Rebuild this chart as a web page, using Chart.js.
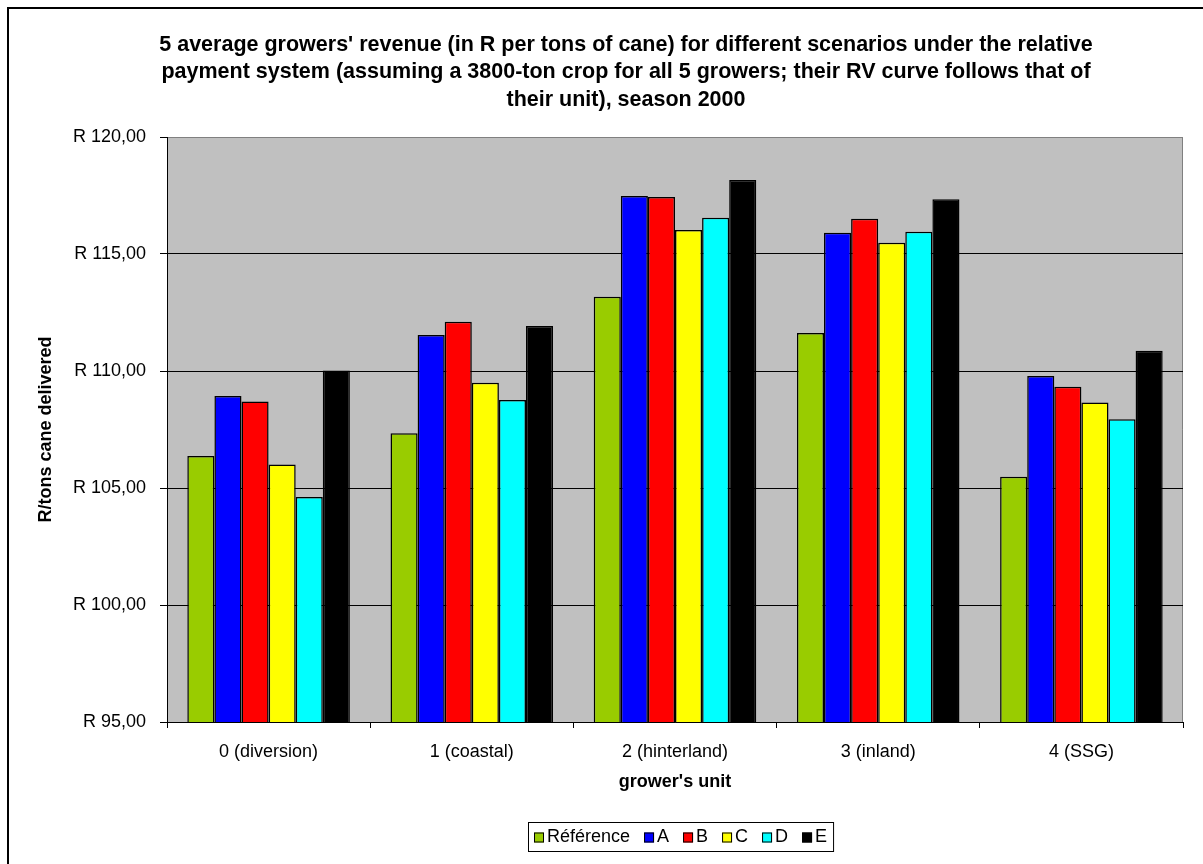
<!DOCTYPE html>
<html>
<head>
<meta charset="utf-8">
<script src="https://cdn.jsdelivr.net/npm/chart.js@4/dist/chart.umd.min.js"></script>
<style>
  html, body { margin: 0; padding: 0; background: #fff; }
  canvas { display: block; }
</style>
</head>
<body>
<canvas id="chart" width="1203" height="864"></canvas>
<script>
// Grower's units (categories)
const units = ['0 (diversion)', '1 (coastal)', '2 (hinterland)', '3 (inland)', '4 (SSG)'];

// Average revenue per ton of cane, per scenario
const reference = [106.37, 107.34, 113.17, 111.62, 105.48];
const scenarioA = [108.93, 111.54, 117.48, 115.91, 109.79];
const scenarioB = [108.70, 112.11, 117.44, 116.51, 109.33];
const scenarioC = [106.00, 109.50, 116.03, 115.48, 108.65];
const scenarioD = [104.62, 108.76, 116.55, 115.95, 107.94];
const scenarioE = [110.02, 111.92, 118.16, 117.34, 110.87];

const seriesNames = ['Référence', 'A', 'B', 'C', 'D', 'E'];
const seriesColors = ['#99CC00', '#0000FF', '#FF0000', '#FFFF00', '#00FFFF', '#000000'];

// Value axis
const yMin = 95, yMax = 120, yStep = 5;

const titleLines = [
  "5 average growers' revenue (in R per tons of cane) for different scenarios under the relative",
  "payment system (assuming a 3800-ton crop for all 5 growers; their RV curve follows that of",
  "their unit), season 2000"
];

const FONT = '"Liberation Sans", Arial, sans-serif';

const seriesValues = [reference, scenarioA, scenarioB, scenarioC, scenarioD, scenarioE];
const datasets = seriesNames.map((name, i) => ({
  label: name,
  data: seriesValues[i],
  backgroundColor: seriesColors[i],
  borderColor: '#000000',
  borderWidth: 1.5,
  borderSkipped: 'start',
  categoryPercentage: 0.8,
  barPercentage: 1.0
}));

// Frame, plot background, title and boxed legend
const decor = {
  id: 'decor',
  beforeDraw(chart) {
    const { ctx, chartArea: a } = chart;
    ctx.save();
    ctx.fillStyle = '#ffffff';
    ctx.fillRect(0, 0, chart.width, chart.height);
    ctx.strokeStyle = '#000000';
    ctx.lineWidth = 2;
    ctx.strokeRect(8, 8, chart.width + 20, chart.height + 20);
    ctx.fillStyle = '#C0C0C0';
    ctx.fillRect(a.left, a.top, a.right - a.left, a.bottom - a.top);
    ctx.strokeStyle = '#808080';
    ctx.lineWidth = 1;
    ctx.beginPath();
    ctx.moveTo(a.left, a.top + 0.5);
    ctx.lineTo(a.right - 0.5, a.top + 0.5);
    ctx.lineTo(a.right - 0.5, a.bottom);
    ctx.stroke();
    ctx.restore();
  },
  afterDraw(chart) {
    const { ctx } = chart;
    ctx.save();
    // Title
    ctx.fillStyle = '#000000';
    ctx.font = 'bold 21.5px ' + FONT;
    ctx.textAlign = 'center';
    ctx.textBaseline = 'middle';
    titleLines.forEach((line, i) => ctx.fillText(line, 626, 45 + i * 27.5));

    // Legend
    ctx.font = '18px ' + FONT;
    const box = 10, gapText = 3, gapItem = 14, padX = 6;
    const ds = chart.data.datasets;
    let total = 0;
    ds.forEach((d, i) => {
      total += box + gapText + ctx.measureText(d.label).width;
      if (i < ds.length - 1) total += gapItem;
    });
    const lw = total + padX * 2, lh = 29;
    const lx = Math.round(681 - lw / 2), ly = 822;
    ctx.strokeStyle = '#000000';
    ctx.lineWidth = 1;
    ctx.strokeRect(lx + 0.5, ly + 0.5, lw, lh);
    let x = lx + padX;
    const cy = ly + lh / 2 + 1;
    ctx.textAlign = 'left';
    ds.forEach((d) => {
      ctx.fillStyle = d.backgroundColor;
      ctx.fillRect(x, cy - box / 2, box, box);
      ctx.strokeRect(x + 0.5, cy - box / 2 + 0.5, box - 1, box - 1);
      x += box + gapText;
      ctx.fillStyle = '#000000';
      ctx.fillText(d.label, x, cy);
      x += ctx.measureText(d.label).width + gapItem;
    });
    ctx.restore();
  }
};

new Chart(document.getElementById('chart'), {
  type: 'bar',
  data: { labels: units, datasets },
  options: {
    responsive: false,
    animation: false,
    devicePixelRatio: 1,
    layout: { padding: { top: 137, right: 20, bottom: 0, left: 0 } },
    plugins: {
      legend: { display: false },
      title: { display: false },
      tooltip: { enabled: false }
    },
    scales: {
      x: {
        offset: true,
        afterFit(scale) { scale.height = 142; },
        grid: {
          offset: true,
          drawOnChartArea: false,
          drawTicks: true,
          tickLength: 6,
          color: '#000000'
        },
        border: { color: '#000000', width: 1 },
        ticks: {
          color: '#000000',
          padding: 13,
          font: { family: FONT, size: 18 }
        },
        title: {
          display: true,
          text: "grower's unit",
          color: '#000000',
          font: { family: FONT, size: 18, weight: 'bold' },
          padding: { top: 0, bottom: 71 }
        }
      },
      y: {
        min: yMin,
        max: yMax,
        afterFit(scale) { scale.width = 167; },
        grid: {
          color: (c) => (c.tick && c.tick.value === yMax ? '#808080' : '#000000'),
          tickColor: '#000000',
          tickLength: 7,
          lineWidth: 1
        },
        border: { color: '#000000', width: 1 },
        ticks: {
          stepSize: yStep,
          color: '#000000',
          padding: 14,
          font: { family: FONT, size: 18 },
          callback: (v) => 'R ' + Number(v).toFixed(2).replace('.', ',')
        },
        title: {
          display: true,
          text: 'R/tons cane delivered',
          color: '#000000',
          font: { family: FONT, size: 18, weight: 'bold' },
          padding: { top: 35, bottom: 0 }
        }
      }
    }
  },
  plugins: [decor]
});
</script>
</body>
</html>
